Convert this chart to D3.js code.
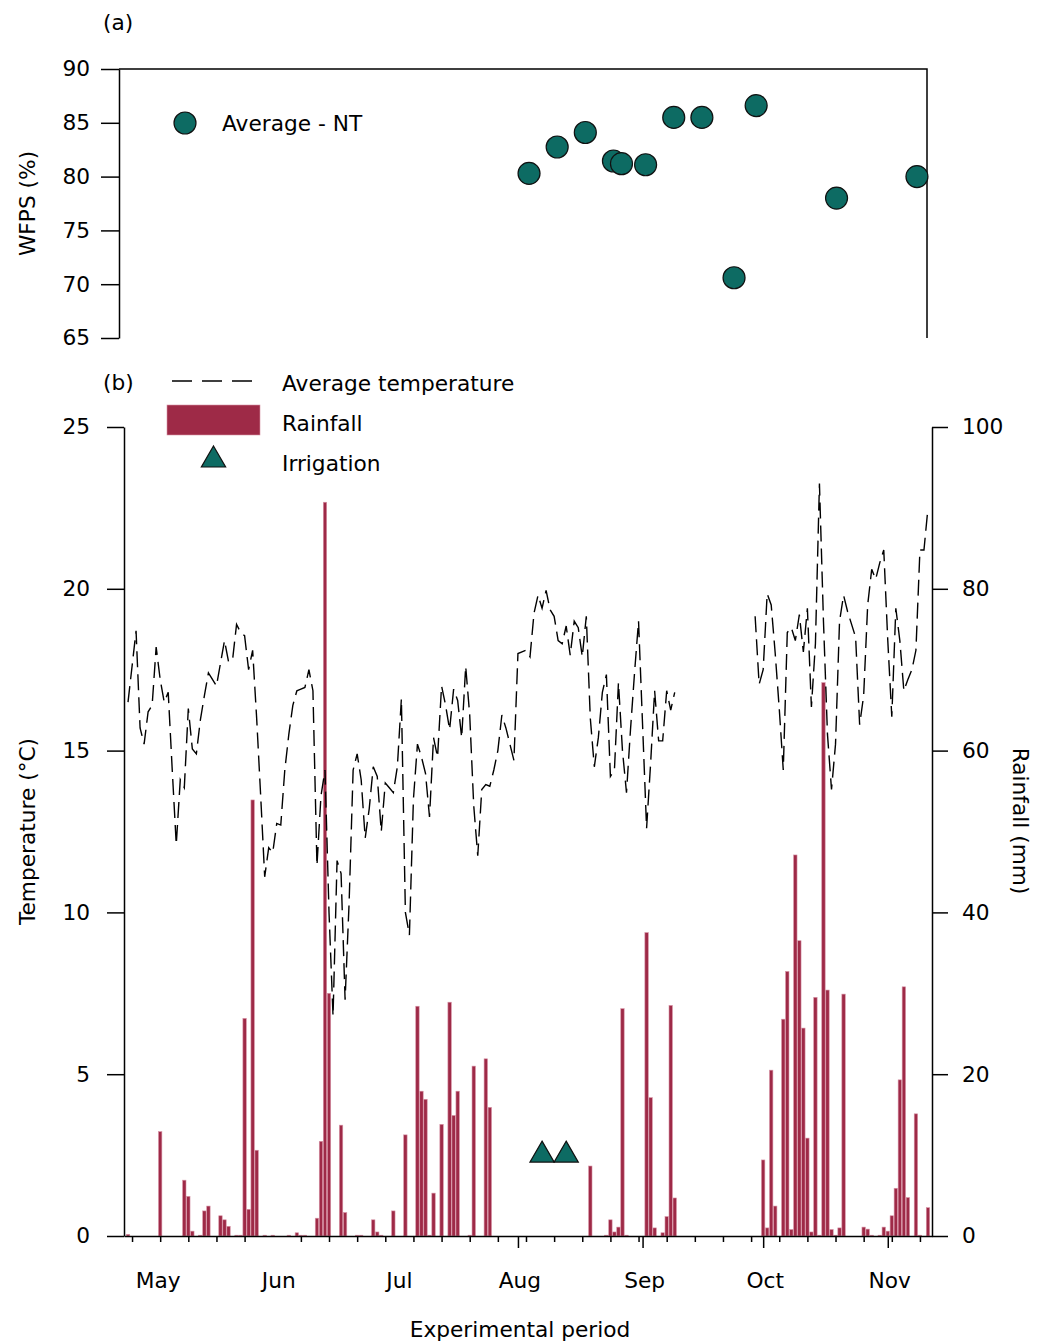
<!DOCTYPE html>
<html>
<head>
<meta charset="utf-8">
<script src="https://cdn.jsdelivr.net/npm/d3@7"></script>
<style>
body { margin: 0; background: #fff; }
svg { font-family: 'DejaVu Sans', sans-serif; font-size: 21.7px; }
</style>
</head>
<body>
<div id="viz"></div>
<script>
// all series are indexed by day number, day 0 = 25 Apr
const startDate = new Date(2014, 3, 25)
const endDate = new Date(2014, 10, 12)

const wfpsDays = [102, 109, 116, 123, 125, 131, 138, 145, 153, 158.5, 178.5, 198.5]
const wfpsValues = [80.3, 82.75, 84.1, 81.45, 81.2, 81.1, 85.5, 85.5, 70.6, 86.6, 78.0, 80.0]

const tempSpringStart = 1
const tempSpring = [
    16.5, 17.6, 18.7, 15.7, 15.2, 16.2, 16.4, 18.2, 17.2, 16.5,
    16.8, 14.4, 12.1, 14.1, 13.85, 16.3, 15.05, 14.9, 15.95, 16.7,
    17.4, 17.2, 17.0, 17.7, 18.4, 17.75, 17.8, 18.9, 18.65, 18.55,
    17.5, 18.1, 16.0, 13.6, 11.1, 12.0, 11.85, 12.75, 12.7, 14.4,
    15.5, 16.4, 16.85, 16.9, 16.95, 17.5, 16.85, 11.45, 13.6, 14.4,
    10.0, 6.8, 11.6, 11.2, 7.3, 10.3, 14.4, 14.9, 14.1, 12.3,
    13.2, 14.5, 14.2, 12.5, 14.0, 13.85, 13.7, 14.5, 16.6, 10.0,
    9.3, 13.5, 15.2, 14.8, 14.3, 12.95, 15.4, 14.8, 17.0, 16.4,
    15.65, 16.9, 16.55, 15.4, 17.6, 16.1, 13.3, 11.75, 13.8, 13.95,
    13.9, 14.4, 15.0, 16.1, 15.7, 15.2, 14.7, 18.0, 18.05, 18.1,
    17.9, 19.25, 19.8, 19.4, 19.95, 19.35, 19.15, 18.4, 18.3, 18.85,
    17.95, 19.0, 18.8, 17.9, 19.15, 16.0, 14.5, 15.4, 16.8, 17.35,
    14.2, 14.4, 17.1, 15.0, 13.7, 15.65, 17.4, 19.0, 15.8, 12.6,
    14.6, 16.85, 15.3, 15.3, 16.85, 16.25, 16.8
]
const tempAutumnStart = 157
const tempAutumn = [
    19.15, 17.05, 17.5, 19.85, 19.5, 18.0, 16.3, 14.4, 18.65, 18.8,
    18.4, 19.2, 18.05, 19.4, 16.35, 18.3, 23.25, 19.0, 15.5, 13.8,
    15.2, 19.0, 19.8, 19.3, 18.9, 18.5, 15.8, 16.7, 19.5, 20.6,
    20.3, 20.8, 21.2, 18.4, 16.05, 19.4, 18.4, 16.85, 17.2, 17.5,
    18.1, 21.2, 21.2, 22.5
]

// [day, mm]
const rainfall = [
    [1, 0.2], [9, 12.9], [15, 6.9], [16, 4.9], [17, 0.6], [19, 0.1], [20, 3.1], [21, 3.7],
    [24, 2.5], [25, 2.0], [26, 1.2], [28, 0.1], [29, 0.1], [30, 26.9], [31, 3.3], [32, 53.9],
    [33, 10.6], [35, 0.1], [37, 0.1], [41, 0.1], [43, 0.4], [44, 0.1], [45, 0.1], [48, 2.2],
    [49, 11.7], [50, 90.7], [51, 30.0], [54, 13.7], [55, 2.9], [58, 0.1], [59, 0.1], [62, 2.0],
    [63, 0.5], [64, 0.1], [67, 3.1], [70, 12.5], [73, 28.4], [74, 17.9], [75, 16.9], [76, 0.1],
    [77, 5.3], [79, 13.8], [81, 28.9], [82, 14.9], [83, 17.9], [86, 0.1], [87, 21.0], [90, 21.9],
    [91, 15.9], [116, 8.65], [120, 0.1], [121, 2.0], [122, 0.5], [123, 1.1], [124, 28.1], [125, 0.1],
    [130, 37.5], [131, 17.1], [132, 1.0], [134, 0.4], [135, 2.4], [136, 28.5], [137, 4.7],
    [159, 9.4], [160, 1.0], [161, 20.5], [162, 3.7], [164, 26.8], [165, 32.7], [166, 0.8], [167, 47.1],
    [168, 36.5], [169, 25.7], [170, 12.1], [171, 0.5], [172, 29.5], [173, 0.1], [174, 68.4], [175, 30.4],
    [176, 0.8], [177, 0.1], [178, 1.0], [179, 29.9], [184, 1.1], [185, 0.85], [186, 0.1], [188, 0.1],
    [189, 1.1], [190, 0.6], [191, 2.5], [192, 5.9], [193, 19.3], [194, 30.8], [195, 4.75], [197, 15.1],
    [198, 0.1], [200, 3.5]
]
const irrigationDays = [104, 110]
const irrigationMm = [10, 10]

const wfpsTicks = [65, 70, 75, 80, 85, 90]
const tempTicks = [0, 5, 10, 15, 20, 25]
const rainTicks = [0, 20, 40, 60, 80, 100]
const majorTickMonths = ['2014-08-01', '2014-09-01', '2014-10-01', '2014-11-01']
const monthLabelDates = ['2014-05-03', '2014-06-02', '2014-07-02', '2014-08-01', '2014-09-01', '2014-10-01', '2014-11-01']

const parseDate = d3.timeParse('%Y-%m-%d')
const day = n => new Date(+startDate + n * 864e5)
const teal = '#0d6b63',
    wine = '#9e2a47'
const fontSize = '21.7px'

const width = 1047,
    height = 1343

const svg = d3.select('#viz').append('svg')
    .attr('width', width)
    .attr('height', height)

const styleAxis = g => {
    g.selectAll('path, line').attr('stroke', '#000').attr('stroke-width', 1.5)
    g.selectAll('text').attr('fill', '#000').style('font-size', fontSize).style('font-family', 'DejaVu Sans')
}

// ---------- (a) WFPS ----------
const xTop = d3.scaleTime().domain([startDate, endDate]).range([119, 927])
const yTop = d3.scaleLinear().domain([65, 90]).range([338, 69])

svg.append('g')
    .attr('transform', 'translate(119,0)')
    .call(d3.axisLeft(yTop).tickValues(wfpsTicks).tickSize(18).tickSizeOuter(0).tickPadding(11))
    .call(styleAxis)

svg.append('path')
    .attr('d', `M119,${yTop(90)}H927V${yTop(65)}`)
    .attr('fill', 'none')
    .attr('stroke', '#000')
    .attr('stroke-width', 1.5)

svg.append('g').selectAll('circle')
    .data(wfpsDays.map((d, i) => ({ date: day(d), value: wfpsValues[i] })))
    .enter()
    .append('circle')
    .attr('cx', d => xTop(d.date))
    .attr('cy', d => yTop(d.value))
    .attr('r', 11)
    .attr('fill', teal)
    .attr('stroke', '#111')
    .attr('stroke-width', 1.2)

svg.append('circle').attr('cx', 185).attr('cy', 123).attr('r', 11)
    .attr('fill', teal).attr('stroke', '#111').attr('stroke-width', 1.2)
svg.append('text').attr('x', 222).attr('y', 131).text('Average - NT')

svg.append('text').attr('x', 103).attr('y', 30).text('(a)')
svg.append('text')
    .attr('transform', `translate(35,${(69 + 338) / 2}) rotate(-90)`)
    .attr('text-anchor', 'middle')
    .text('WFPS (%)')

// ---------- (b) temperature / rainfall ----------
const x = d3.scaleTime().domain([startDate, endDate]).range([124, 932])
const yTemp = d3.scaleLinear().domain([0, 25]).range([1236, 427])
const yRain = d3.scaleLinear().domain([0, 100]).range([1236, 427])

const barW = 3.4
svg.append('g').selectAll('rect')
    .data(rainfall)
    .enter()
    .append('rect')
    .attr('x', d => x(day(d[0])) - barW / 2)
    .attr('y', d => yRain(d[1]))
    .attr('width', barW)
    .attr('height', d => yRain(0) - yRain(d[1]))
    .attr('fill', wine)
    .attr('stroke', '#d793a6')
    .attr('stroke-width', 0.6)

const tempData = tempSpring.map((v, i) => ({ date: day(tempSpringStart + i), value: v }))
    .concat([{ date: day(tempSpringStart + tempSpring.length), value: null }])
    .concat(tempAutumn.map((v, i) => ({ date: day(tempAutumnStart + i), value: v })))

const line = d3.line()
    .defined(d => d.value != null)
    .x(d => x(d.date))
    .y(d => yTemp(d.value))

svg.append('path')
    .datum(tempData)
    .attr('d', line)
    .attr('fill', 'none')
    .attr('stroke', '#000')
    .attr('stroke-width', 1.4)
    .attr('stroke-dasharray', '16,7')

svg.append('g').selectAll('path')
    .data(irrigationDays.map((d, i) => ({ date: day(d), value: irrigationMm[i] })))
    .enter()
    .append('path')
    .attr('transform', d => `translate(${x(d.date)},${yRain(d.value)})`)
    .attr('d', d3.symbol(d3.symbolTriangle, 255))
    .attr('fill', teal)
    .attr('stroke', '#111')
    .attr('stroke-width', 1.2)

// axes
svg.append('g')
    .attr('transform', 'translate(124,0)')
    .call(d3.axisLeft(yTemp).tickValues(tempTicks).tickSize(17).tickSizeOuter(0).tickPadding(17))
    .call(styleAxis)

svg.append('g')
    .attr('transform', 'translate(932,0)')
    .call(d3.axisRight(yRain).tickValues(rainTicks).tickSize(16).tickSizeOuter(0).tickPadding(14))
    .call(styleAxis)

const minorTicks = d3.timeWeek.range(startDate, endDate)
    .filter(d => d.getDate() !== 1)
const majorTicks = majorTickMonths.map(parseDate)

svg.append('g')
    .attr('transform', 'translate(0,1236)')
    .call(d3.axisBottom(x).tickValues(minorTicks).tickSize(6).tickSizeOuter(0).tickFormat(''))
    .call(styleAxis)

svg.append('g')
    .attr('transform', 'translate(0,1236)')
    .call(d3.axisBottom(x).tickValues(majorTicks).tickSize(12).tickSizeOuter(0).tickFormat(''))
    .call(styleAxis)
    .call(g => g.select('.domain').remove())

svg.append('g')
    .attr('transform', 'translate(1.5,1236)')
    .call(d3.axisBottom(x).tickValues(monthLabelDates.map(parseDate))
        .tickSize(0).tickPadding(37).tickFormat(d3.timeFormat('%b')))
    .call(styleAxis)
    .call(g => g.select('.domain').remove())

svg.append('text')
    .attr('x', 520)
    .attr('y', 1337)
    .attr('text-anchor', 'middle')
    .text('Experimental period')

svg.append('text')
    .attr('transform', `translate(35,${(427 + 1236) / 2}) rotate(-90)`)
    .attr('text-anchor', 'middle')
    .text('Temperature (°C)')

svg.append('text')
    .attr('transform', 'translate(1013,821) rotate(90)')
    .attr('text-anchor', 'middle')
    .text('Rainfall (mm)')

// legend (b)
svg.append('text').attr('x', 103).attr('y', 390).text('(b)')

svg.append('line')
    .attr('x1', 172).attr('x2', 255).attr('y1', 381).attr('y2', 381)
    .attr('stroke', '#000').attr('stroke-width', 1.4).attr('stroke-dasharray', '20,10')
svg.append('text').attr('x', 282).attr('y', 391).text('Average temperature')

svg.append('rect')
    .attr('x', 167).attr('y', 405).attr('width', 93).attr('height', 30)
    .attr('fill', wine).attr('stroke', '#d793a6').attr('stroke-width', 0.6)
svg.append('text').attr('x', 282).attr('y', 431).text('Rainfall')

svg.append('path')
    .attr('transform', 'translate(213.5,460)')
    .attr('d', d3.symbol(d3.symbolTriangle, 255))
    .attr('fill', teal).attr('stroke', '#111').attr('stroke-width', 1.2)
svg.append('text').attr('x', 282).attr('y', 471).text('Irrigation')
</script>
</body>
</html>
